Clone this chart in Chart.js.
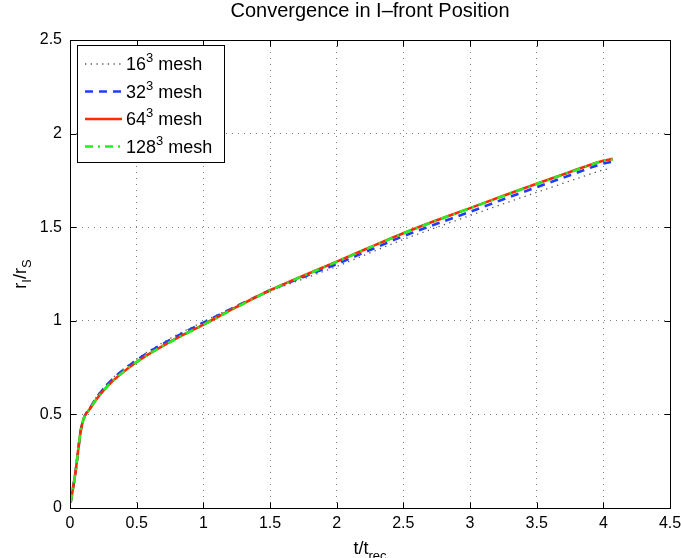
<!DOCTYPE html>
<html><head><meta charset="utf-8">
<script src="https://cdn.jsdelivr.net/npm/chart.js@4/dist/chart.umd.min.js"></script>
<style>html,body{margin:0;padding:0;background:#fff;} #wrap{width:681px;height:558px;position:relative;}</style>
</head><body><div id="wrap"><canvas id="c" width="681" height="558"></canvas></div>
<script>
// ---- data ----
const tValues   = [0.005, 0.04, 0.085, 0.16, 0.28, 0.5, 0.75, 1.0, 1.25, 1.5, 1.75, 2.0, 2.25, 2.5, 2.75, 3.0, 3.25, 3.5, 3.75, 4.0, 4.07];
const tValues16 = [0.005, 0.04, 0.085, 0.16, 0.28, 0.5, 0.75, 1.0, 1.25, 1.5, 1.75, 2.0, 2.25, 2.5, 2.75, 3.0, 3.25, 3.5, 3.75, 4.0, 4.03];
const mesh16  = [0.03, 0.185, 0.43, 0.55, 0.665, 0.795, 0.905, 0.995, 1.08, 1.158, 1.224, 1.29, 1.363, 1.434, 1.499, 1.562, 1.625, 1.686, 1.747, 1.806, 1.811];
const mesh32  = [0.03, 0.185, 0.43, 0.545, 0.66, 0.79, 0.898, 0.99, 1.078, 1.163, 1.234, 1.303, 1.378, 1.452, 1.518, 1.582, 1.649, 1.714, 1.778, 1.84, 1.85];
const mesh64  = [0.03, 0.185, 0.43, 0.54, 0.65, 0.78, 0.888, 0.98, 1.074, 1.163, 1.241, 1.316, 1.393, 1.468, 1.537, 1.602, 1.668, 1.732, 1.795, 1.855, 1.865];
const mesh128 = [0.03, 0.185, 0.43, 0.54, 0.65, 0.78, 0.886, 0.978, 1.072, 1.162, 1.240, 1.315, 1.392, 1.467, 1.536, 1.601, 1.667, 1.731, 1.794, 1.854, 1.863];
const seriesNames = ["16", "32", "64", "128"];
const xTicks = [0, 0.5, 1, 1.5, 2, 2.5, 3, 3.5, 4, 4.5];
const yTicks = [0, 0.5, 1, 1.5, 2, 2.5];
const titleText = "Convergence in I\u2013front Position";

const FONT = '"Liberation Sans", Arial, Helvetica, sans-serif';
const pts = (xs, ys) => xs.map((x, i) => ({x, y: ys[i]}));

const decor = {
  id: 'decor',
  afterDraw(chart) {
    const {ctx, chartArea: a, scales: {x, y}} = chart;
    ctx.save();
    // frame
    const L = Math.round(a.left) + 0.5, R = Math.round(a.right) + 0.5,
          T = Math.round(a.top) + 0.5, B = Math.round(a.bottom) + 0.5;
    ctx.strokeStyle = '#000'; ctx.lineWidth = 1; ctx.setLineDash([]);
    ctx.strokeRect(L, T, R - L, B - T);
    // inward ticks
    ctx.beginPath();
    xTicks.forEach(v => {
      const px = Math.round(x.getPixelForValue(v)) + 0.5;
      ctx.moveTo(px, B); ctx.lineTo(px, B - 6);
      ctx.moveTo(px, T); ctx.lineTo(px, T + 6);
    });
    yTicks.forEach(v => {
      const py = Math.round(y.getPixelForValue(v)) + 0.5;
      ctx.moveTo(L, py); ctx.lineTo(L + 6, py);
      ctx.moveTo(R, py); ctx.lineTo(R - 6, py);
    });
    ctx.stroke();
    ctx.fillStyle = '#000';
    // title
    ctx.font = '20px ' + FONT; ctx.textAlign = 'center'; ctx.textBaseline = 'alphabetic';
    ctx.fillText(titleText, (a.left + a.right) / 2, 17);
    // x label t/t_rec
    ctx.textAlign = 'left';
    ctx.font = '18px ' + FONT; const w1 = ctx.measureText('t/t').width;
    ctx.font = '13px ' + FONT; const w2 = ctx.measureText('rec').width;
    const sx = (a.left + a.right) / 2 - (w1 + w2) / 2;
    ctx.font = '18px ' + FONT; ctx.fillText('t/t', sx, 554);
    ctx.font = '13px ' + FONT; ctx.fillText('rec', sx + w1, 560);
    // y label r_I/r_S
    ctx.save();
    const parts = [['r', 0], ['I', 1], ['/r', 0], ['S', 1]];
    let tw = 0;
    parts.forEach(([s, sub]) => { ctx.font = (sub ? '13px ' : '18px ') + FONT; tw += ctx.measureText(s).width; });
    ctx.translate(26, (a.top + a.bottom) / 2);
    ctx.rotate(-Math.PI / 2);
    let cx = -tw / 2;
    parts.forEach(([s, sub]) => {
      ctx.font = (sub ? '13px ' : '18px ') + FONT;
      ctx.fillText(s, cx, sub ? 5 : 0);
      cx += ctx.measureText(s).width;
    });
    ctx.restore();
    // legend
    const bx = 77.5, by = 45.5, bw = 147, bh = 117;
    ctx.fillStyle = '#fff'; ctx.fillRect(bx, by, bw, bh);
    ctx.strokeStyle = '#000'; ctx.lineWidth = 1; ctx.strokeRect(bx, by, bw, bh);
    const rows = [64, 91.5, 119, 146.5];
    chart.data.datasets.forEach((ds, i) => {
      const yy = rows[i];
      ctx.save();
      ctx.strokeStyle = ds.borderColor; ctx.lineWidth = ds.borderWidth;
      ctx.setLineDash(ds.borderDash || []);
      ctx.beginPath(); ctx.moveTo(85, yy); ctx.lineTo(122, yy); ctx.stroke();
      ctx.restore();
      ctx.fillStyle = '#000';
      let tx = 126;
      ctx.font = '18px ' + FONT; ctx.fillText(seriesNames[i], tx, yy + 6);
      tx += ctx.measureText(seriesNames[i]).width;
      ctx.font = '13px ' + FONT; ctx.fillText('3', tx, yy - 2);
      tx += ctx.measureText('3').width;
      ctx.font = '18px ' + FONT; ctx.fillText(' mesh', tx, yy + 6);
    });
    ctx.restore();
  }
};

const gridCfg = {color: 'rgba(0,0,0,0.5)', lineWidth: 1, drawTicks: false};
new Chart(document.getElementById('c'), {
  type: 'line',
  data: {
    datasets: [
      {label: '16^3 mesh', data: pts(tValues16, mesh16), borderColor: '#555555', borderWidth: 1.3, borderDash: [1.3, 4.4], order: 4},
      {label: '32^3 mesh', data: pts(tValues, mesh32), borderColor: '#1f3dff', borderWidth: 2.6, borderDash: [8, 6], order: 3},
      {label: '64^3 mesh', data: pts(tValues, mesh64), borderColor: '#ff2a00', borderWidth: 2.6, order: 2},
      {label: '128^3 mesh', data: pts(tValues, mesh128), borderColor: '#22ee22', borderWidth: 2.6, borderDash: [8, 5, 2, 5], order: 1}
    ]
  },
  options: {
    responsive: false, animation: false,
    layout: {padding: {top: 40, right: 11, left: 0, bottom: 0}},
    elements: {point: {radius: 0}, line: {cubicInterpolationMode: 'monotone', fill: false}},
    plugins: {legend: {display: false}, tooltip: {enabled: false}, title: {display: false}},
    scales: {
      x: {
        type: 'linear', min: 0, max: 4.5,
        afterBuildTicks: s => { s.ticks = xTicks.map(v => ({value: v})); },
        afterFit: s => { s.height = 50; s.paddingLeft = 0; s.paddingRight = 0; },
        ticks: {color: '#000', font: {family: FONT, size: 16}, padding: 6, maxRotation: 0, autoSkip: false, callback: v => String(v)},
        grid: gridCfg, border: {display: false, dash: [1, 5]}
      },
      y: {
        type: 'linear', min: 0, max: 2.5,
        afterBuildTicks: s => { s.ticks = yTicks.map(v => ({value: v})); },
        afterFit: s => { s.width = 70; s.paddingTop = 0; s.paddingBottom = 0; },
        ticks: {color: '#000', font: {family: FONT, size: 16}, padding: 8, autoSkip: false, callback: v => String(v)},
        grid: gridCfg, border: {display: false, dash: [1, 5]}
      }
    }
  },
  plugins: [decor]
});
</script>
</body></html>
